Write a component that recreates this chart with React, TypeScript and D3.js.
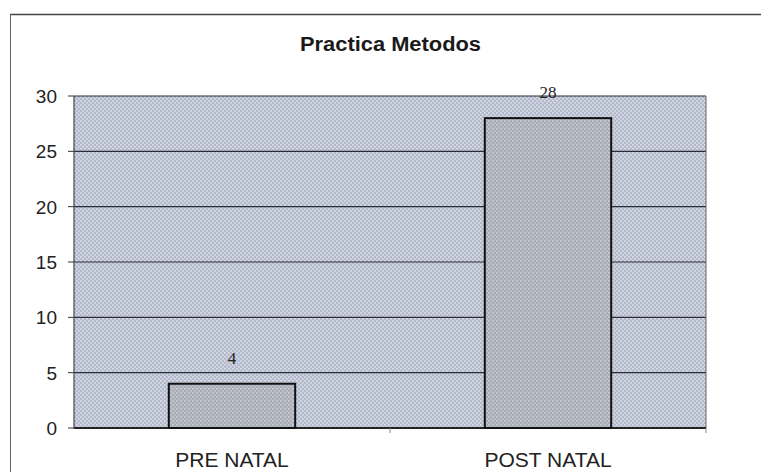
import React from 'react'
import * as d3 from 'd3'

const categories = ['PRE NATAL', 'POST NATAL']
const values = [4, 28]
const yTicks = [0, 5, 10, 15, 20, 25, 30]
const title = 'Practica Metodos'

const W = 761
const H = 472
const margin = { top: 96, right: 55, bottom: 44, left: 74 }
const sans = "'Liberation Sans', Arial, sans-serif"
const serif = "'Liberation Serif', 'Times New Roman', serif"

export default function App() {
  const innerW = W - margin.left - margin.right
  const innerH = H - margin.top - margin.bottom

  const x = d3.scaleBand<string>()
    .domain(categories)
    .range([0, innerW])
    .paddingInner(0.6)
    .paddingOuter(0.3)

  const y = d3.scaleLinear().domain([0, 30]).range([innerH, 0])

  return (
    <svg
      width={W}
      height={H}
      style={{ position: 'absolute', left: 0, top: 0, background: '#fff' }}
      fontFamily={sans}
    >
      <defs>
        {/* stippled look of the scanned plot area */}
        <pattern id="bgDots" width="4" height="4" patternUnits="userSpaceOnUse">
          <rect width="4" height="4" fill="#c8cedb" />
          <rect x="0" y="0" width="2" height="2" fill="#b2b9ca" />
          <rect x="2" y="2" width="2" height="2" fill="#b2b9ca" />
          <rect x="2" y="0" width="1" height="1" fill="#e0e3ec" />
          <rect x="0" y="2" width="1" height="1" fill="#e0e3ec" />
        </pattern>
        <pattern id="barDots" width="4" height="4" patternUnits="userSpaceOnUse">
          <rect width="4" height="4" fill="#bcbfc8" />
          <rect x="0" y="0" width="2" height="2" fill="#a8acb7" />
          <rect x="2" y="2" width="2" height="2" fill="#a8acb7" />
          <rect x="2" y="0" width="1" height="1" fill="#cdd0d8" />
        </pattern>
      </defs>

      {/* outer chart frame (top and left only visible in the scan) */}
      <line x1={10} x2={W} y1={14.5} y2={14.5} stroke="#444" strokeWidth={1.5} />
      <line x1={10.5} x2={10.5} y1={14} y2={H} stroke="#666" strokeWidth={1} />

      <text x={300} y={51} fontSize={20} fontWeight="bold" fill="#1a1a1a"
        textLength={181} lengthAdjust="spacingAndGlyphs">{title}</text>

      <g transform={`translate(${margin.left},${margin.top})`}>
        <rect x={0} y={0} width={innerW} height={innerH} fill="url(#bgDots)" />

        {yTicks.map(t => (
          <g key={t}>
            <line x1={0} x2={innerW} y1={y(t)} y2={y(t)} stroke="#2a2e38" strokeWidth={1.2} />
            <line x1={-6} x2={0} y1={y(t)} y2={y(t)} stroke="#333" strokeWidth={1} />
            <text x={-17} y={y(t)} dy="0.36em" textAnchor="end" fontSize={19} fill="#222">{t}</text>
          </g>
        ))}

        <line x1={0} x2={0} y1={0} y2={innerH} stroke="#444" strokeWidth={1.2} />
        <line x1={innerW} x2={innerW} y1={0} y2={innerH} stroke="#666" strokeWidth={1} />
        <line x1={0} x2={innerW} y1={innerH} y2={innerH} stroke="#222" strokeWidth={1.8} />
        <line x1={innerW / 2} x2={innerW / 2} y1={innerH} y2={innerH + 5} stroke="#888" />
        <line x1={innerW} x2={innerW} y1={innerH} y2={innerH + 5} stroke="#888" />

        {categories.map((c, i) => (
          <g key={c}>
            <rect
              x={x(c)!}
              y={y(values[i])}
              width={x.bandwidth()}
              height={innerH - y(values[i])}
              fill="url(#barDots)"
              stroke="#111"
              strokeWidth={2}
            />
            <text
              x={x(c)! + x.bandwidth() / 2}
              y={y(values[i]) - 20}
              textAnchor="middle"
              fontSize={17}
              fontFamily={serif}
              fill="#222"
            >
              {values[i]}
            </text>
            <text
              x={x(c)! + x.bandwidth() / 2}
              y={innerH + 39}
              textAnchor="middle"
              fontSize={21}
              fill="#222"
            >
              {c}
            </text>
          </g>
        ))}
      </g>
    </svg>
  )
}
